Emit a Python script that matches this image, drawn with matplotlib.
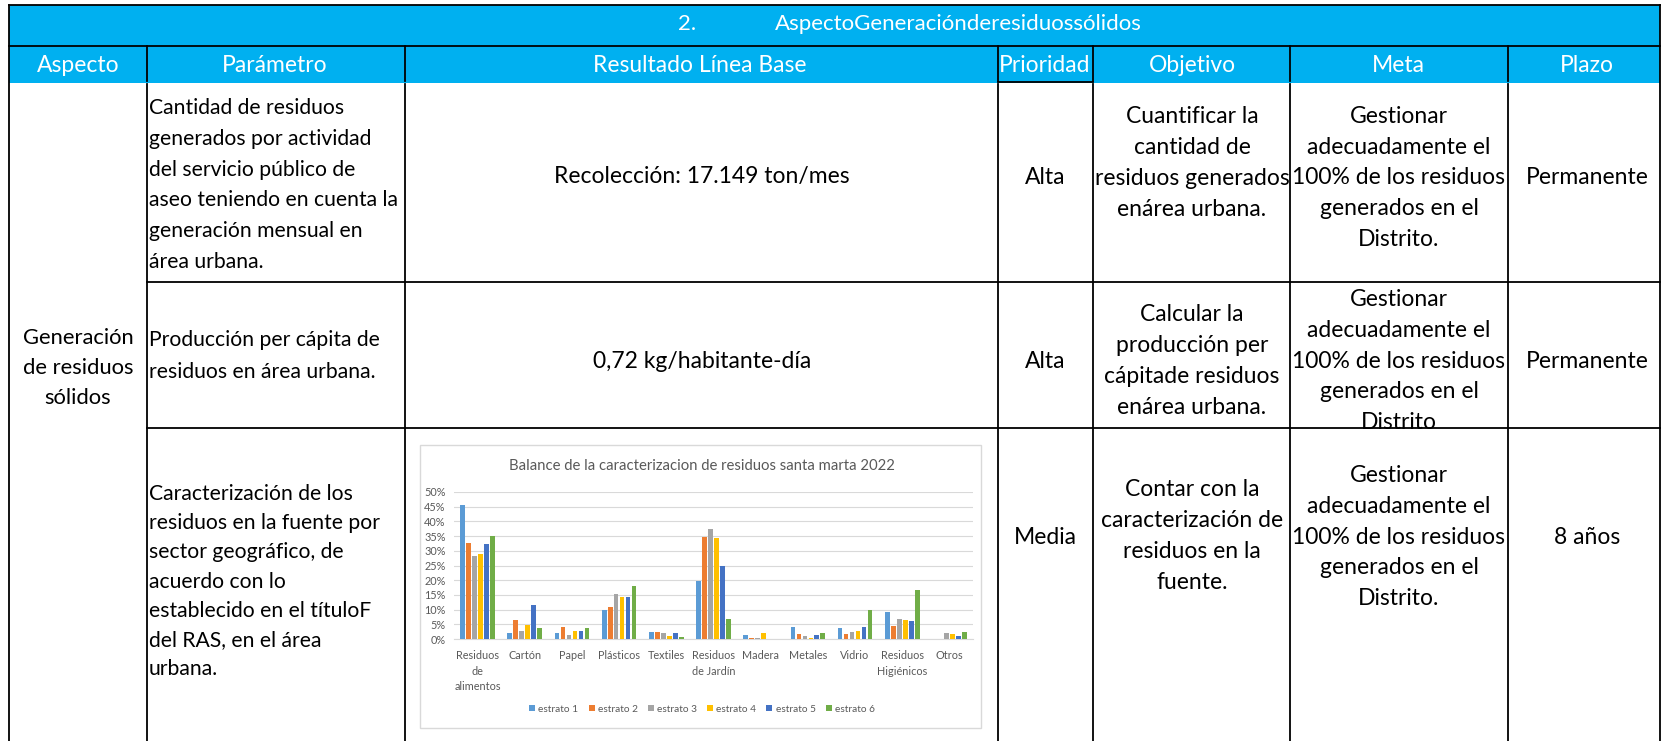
import matplotlib
matplotlib.use("Agg")
import matplotlib.pyplot as plt
import numpy as np
from matplotlib import font_manager
from matplotlib.patches import Rectangle, Patch

# ---- data ------------------------------------------------------------
categories = ["Residuos\nde\nalimentos", "Cartón", "Papel", "Plásticos", "Textiles",
              "Residuos\nde Jardín", "Madera", "Metales", "Vidrio",
              "Residuos\nHigiénicos", "Otros"]
series_names = ["estrato 1", "estrato 2", "estrato 3", "estrato 4", "estrato 5", "estrato 6"]
estrato_1 = [45.5, 2.0, 2.0, 9.9, 2.4, 19.8, 1.5, 4.0, 3.6, 9.1, 0.0]
estrato_2 = [32.6, 6.4, 4.1, 10.9, 2.4, 34.8, 0.4, 1.8, 1.8, 4.5, 0.0]
estrato_3 = [28.3, 2.6, 1.5, 15.2, 2.0, 37.4, 0.3, 0.9, 2.3, 6.8, 2.0]
estrato_4 = [29.0, 4.8, 2.8, 14.4, 1.0, 34.4, 2.0, 0.4, 2.6, 6.4, 1.7]
estrato_5 = [32.3, 11.5, 2.8, 14.2, 2.0, 24.7, 0.0, 1.3, 4.0, 6.0, 1.0]
estrato_6 = [34.9, 3.9, 3.9, 18.0, 0.8, 6.8, 0.0, 2.0, 9.9, 16.6, 2.4]
series_values = [estrato_1, estrato_2, estrato_3, estrato_4, estrato_5, estrato_6]
y_ticks = [0, 5, 10, 15, 20, 25, 30, 35, 40, 45, 50]

table_title_num = "2."
table_title = "AspectoGeneraciónderesiduossólidos"
headers = ["Aspecto", "Parámetro", "Resultado Línea Base", "Prioridad", "Objetivo", "Meta", "Plazo"]
aspecto = ["Generación", "de residuos", "sólidos"]
parametros = [
    ["Cantidad de residuos", "generados por actividad", "del servicio público de",
     "aseo teniendo en cuenta la", "generación mensual en", "área urbana."],
    ["Producción per cápita de", "residuos en área urbana."],
    ["Caracterización de los", "residuos en la fuente por", "sector geográfico, de",
     "acuerdo con lo", "establecido en el títuloF", "del RAS, en el área", "urbana."],
]
resultados = ["Recolección: 17.149 ton/mes", "0,72 kg/habitante-día"]
prioridades = ["Alta", "Alta", "Media"]
objetivos = [
    ["Cuantificar la", "cantidad de", "residuos generados", "enárea urbana."],
    ["Calcular la", "producción per", "cápitade residuos", "enárea urbana."],
    ["Contar con la", "caracterización de", "residuos en la", "fuente."],
]
meta_lines = ["Gestionar", "adecuadamente el", "100% de los residuos", "generados en el"]
metas = [meta_lines + ["Distrito."], meta_lines + ["Distrito"], meta_lines + ["Distrito."]]
plazos = ["Permanente", "Permanente", "8 años"]
chart_title = "Balance de la caracterizacion de residuos santa marta 2022"

colors = ["#5B9BD5", "#ED7D31", "#A5A5A5", "#FFC000", "#4472C4", "#70AD47"]
BLUE = "#00B0F0"
GRAY_TXT = "#595959"

# ---- fonts -------------------------------------------------------------
try:
    font_manager.findfont("Liberation Sans Narrow", fallback_to_default=False)
    NARROW = "Liberation Sans Narrow"
except Exception:
    NARROW = "Lato"
REGULAR = "Lato"

W, H = 1661, 741
fig = plt.figure(figsize=(W / 100, H / 100), dpi=100)
ax = fig.add_axes([0, 0, 1, 1])
ax.set_xlim(0, W)
ax.set_ylim(H, 0)
ax.axis("off")

# column and row boundaries (pixels)
col_x = [9, 147, 405, 998, 1093, 1290, 1508, 1660]
top, title_bot, head_bot, row1_bot, row2_bot = 5, 46, 83, 282, 428

ax.add_patch(Rectangle((col_x[0], top), col_x[-1] - col_x[0], head_bot - top,
                       facecolor=BLUE, edgecolor="none"))
lw = 1.3
ax.plot([col_x[0], col_x[-1]], [top, top], color="black", lw=lw)
ax.plot([col_x[0], col_x[-1]], [title_bot, title_bot], color="black", lw=lw)
ax.plot([col_x[0], col_x[0]], [top, H], color="black", lw=lw)
ax.plot([col_x[-1], col_x[-1]], [top, H], color="black", lw=lw)
for cx in col_x[1:-1]:
    ax.plot([cx, cx], [title_bot, head_bot - 2], color="black", lw=lw)
    ax.plot([cx, cx], [head_bot + 1, H], color="black", lw=lw)
ax.plot([col_x[3], col_x[4]], [head_bot - 1, head_bot - 1], color="black", lw=lw)
for ry in (row1_bot, row2_bot):
    ax.plot([col_x[1], col_x[-1]], [ry, ry], color="black", lw=lw)

# title + headers
ax.text(687, 24, table_title_num, color="white", fontsize=16, family=NARROW,
        ha="center", va="center")
ax.text(775, 24, table_title, color="white", fontsize=16, family=NARROW,
        ha="left", va="center")
head_cx = [78, 275, 700, 1045, 1192, 1398, 1587]
for hx, h in zip(head_cx, headers):
    ax.text(hx, 65, h, color="white", fontsize=16.5, family=NARROW, ha="center", va="center")


def block(x, cy, lines, lh, ha="center", family=NARROW, size=16.5):
    n = len(lines)
    for i, line in enumerate(lines):
        ax.text(x, cy + (i - (n - 1) / 2) * lh, line, ha=ha, va="center",
                family=family, fontsize=size, color="black")


block(78, 368, aspecto, 30.5, family=REGULAR, size=15.8)
par_cy = [185, 356, 581.5]
par_lh = [30.8, 32, 29.2]
for cy, lh, lines in zip(par_cy, par_lh, parametros):
    block(149, cy, lines, lh, ha="left", family=REGULAR, size=15.2)

block(702, 177, [resultados[0]], 30)
block(702, 361, [resultados[1]], 30)
row_cy = [178, 361, 537]
obj_cy = [163, 361, 536]
for i in range(3):
    block(1045, row_cy[i], [prioridades[i]], 30)
    block(1192, obj_cy[i], objetivos[i], 30.7)
    block(1399, row_cy[i], metas[i], 30.8)
    block(1587, row_cy[i], [plazos[i]], 30)

# ---- embedded chart -------------------------------------------------------
ax.add_patch(Rectangle((420, 445), 561, 283, facecolor="white", edgecolor="#D9D9D9", lw=1))
ax.text(702, 466, chart_title, color=GRAY_TXT, fontsize=10.7, family=REGULAR,
        ha="center", va="center")

px0, px1, py_top, py_bot = 454, 973, 492, 639
cax = fig.add_axes([px0 / W, 1 - py_bot / H, (px1 - px0) / W, (py_bot - py_top) / H])
x = np.arange(len(categories))
slot, bw = 0.127, 0.1
for i, (vals, c, name) in enumerate(zip(series_values, colors, series_names)):
    cax.bar(x + (i - 2.5) * slot, vals, bw, color=c, label=name, zorder=3)
cax.set_xlim(-0.5, len(categories) - 0.5)
cax.set_ylim(0, 50)
cax.set_yticks(y_ticks)
cax.set_yticklabels([f"{t}%" for t in y_ticks])
cax.set_xticks(x)
cax.set_xticklabels(categories, linespacing=1.5)
cax.yaxis.grid(True, color="#D9D9D9", lw=0.8, zorder=0)
cax.set_axisbelow(True)
for s in ("top", "right", "left"):
    cax.spines[s].set_visible(False)
cax.spines["bottom"].set_color("#D9D9D9")
cax.tick_params(axis="both", length=0, labelsize=7.8, labelcolor=GRAY_TXT)
cax.tick_params(axis="y", pad=6)
cax.tick_params(axis="x", pad=8)
for t in cax.get_xticklabels() + cax.get_yticklabels():
    t.set_family(REGULAR)
cax.patch.set_alpha(0)

handles = [Patch(facecolor=c) for c in colors]
leg = fig.legend(handles, series_names, loc="center", bbox_to_anchor=(702 / W, 1 - 709 / H),
                 ncol=6, frameon=False, prop={"family": REGULAR, "size": 7.3},
                 handlelength=0.6, handleheight=0.6, handletextpad=0.3, columnspacing=1.0)
for t in leg.get_texts():
    t.set_color(GRAY_TXT)

fig.savefig("out.png", dpi=100)
